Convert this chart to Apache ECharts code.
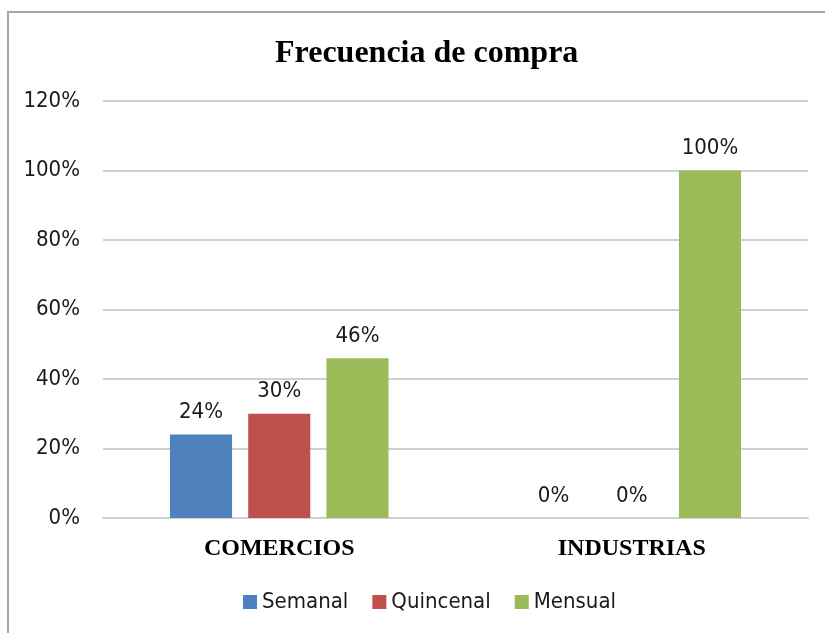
<!DOCTYPE html>
<html lang="es">
<head>
    <meta charset="UTF-8">
    <title>Frecuencia de compra</title>
    <style>
        html, body { margin: 0; padding: 0; background: #fff; }
        #chart { width: 825px; height: 633px; }
    </style>
</head>
<body>
<div id="chart"></div>
<script src="https://cdn.jsdelivr.net/npm/echarts@6/dist/echarts.min.js"></script>
<script>
    var categories = ['COMERCIOS', 'INDUSTRIAS'];
    var semanal = [0.24, 0];
    var quincenal = [0.30, 0];
    var mensual = [0.46, 1.00];

    var narrow = "'DejaVu Sans Condensed', 'Liberation Sans Narrow', sans-serif";
    var serif = "'Liberation Serif', 'Times New Roman', serif";

    var pct = function (v) {
        return Math.round(v * 100) + '%';
    };

    var make_series = function (name, data, color) {
        return {
            name: name,
            type: 'bar',
            data: data,
            barGap: '26%',
            barCategoryGap: '38%',
            itemStyle: { color: color },
            label: {
                show: true,
                position: 'top',
                distance: 11,
                color: '#1a1a1a',
                fontFamily: narrow,
                fontSize: 22,
                formatter: function (p) { return pct(p.value); }
            }
        };
    };

    var chart = echarts.init(document.getElementById('chart'));
    var option = {
        animation: false,
        title: {
            text: 'Frecuencia de compra',
            left: 270,
            top: 33,
            textStyle: {
                fontFamily: serif,
                fontWeight: 'bold',
                fontSize: 32,
                color: '#000'
            }
        },
        graphic: [{
            type: 'rect',
            shape: { x: 8, y: 12, width: 830, height: 640 },
            style: { fill: 'none', stroke: '#a6a6a6', lineWidth: 2 },
            silent: true
        }],
        legend: {
            data: ['Semanal', 'Quincenal', 'Mensual'],
            left: 238,
            top: 586,
            itemWidth: 14,
            itemHeight: 14,
            itemGap: 24,
            icon: 'rect',
            textStyle: {
                fontFamily: narrow,
                fontSize: 22,
                color: '#1a1a1a'
            }
        },
        grid: {
            left: 103,
            right: 17,
            top: 101,
            bottom: 115
        },
        xAxis: {
            type: 'category',
            data: categories,
            axisLine: { lineStyle: { color: '#d0d0d0', width: 2 } },
            axisTick: { show: false },
            axisLabel: {
                margin: 19,
                fontFamily: serif,
                fontWeight: 'bold',
                fontSize: 24,
                color: '#000'
            }
        },
        yAxis: {
            type: 'value',
            min: 0,
            max: 1.2,
            interval: 0.2,
            axisLine: { show: false },
            axisTick: { show: false },
            splitLine: { lineStyle: { color: '#d0d0d0', width: 2 } },
            axisLabel: {
                margin: 23,
                fontFamily: narrow,
                fontSize: 22,
                color: '#1a1a1a',
                formatter: pct
            }
        },
        series: [
            make_series('Semanal', semanal, '#4f81bd'),
            make_series('Quincenal', quincenal, '#c0504d'),
            make_series('Mensual', mensual, '#9bbb59')
        ]
    };
    chart.setOption(option);
</script>
</body>
</html>
